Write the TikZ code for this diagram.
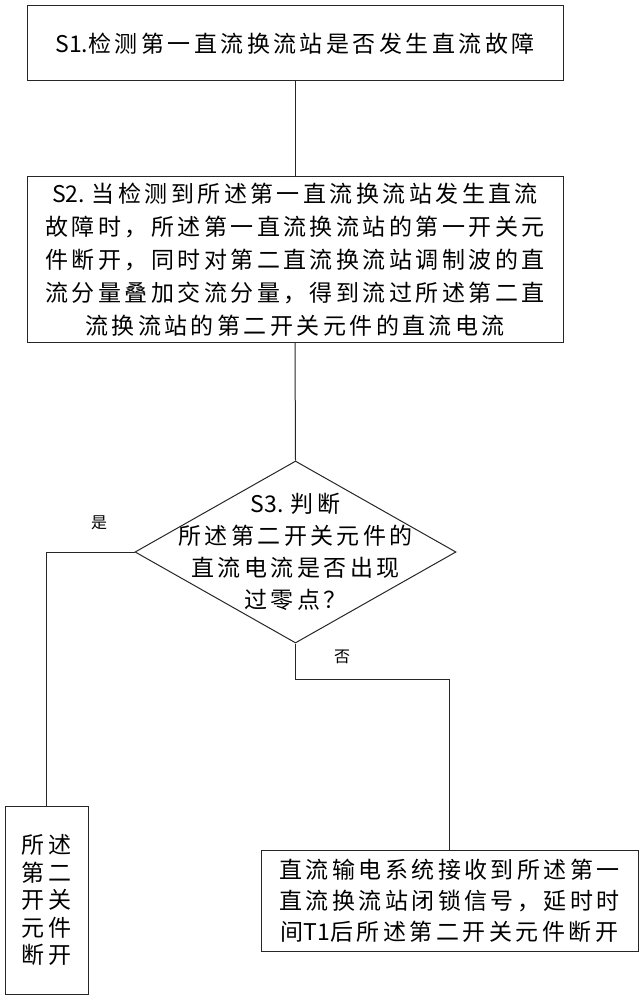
\documentclass[tikz,border=0pt]{standalone}
\usepackage{fontspec}
\newfontfamily\cjk{Noto Sans CJK SC}[LetterSpace=15]
\newfontfamily\cjkplain{Noto Sans CJK SC}
\newcommand\lat[1]{{\cjkplain #1}}
\usetikzlibrary{shapes.geometric}
\begin{document}
\begin{tikzpicture}[x=1pt,y=-1pt,
  box/.style={draw=black!85, line width=1pt, inner sep=0pt, align=center},
  main/.style={font=\cjk\fontsize{23}{33}\selectfont},
  conn/.style={draw=black!85, line width=1pt},
  lbl/.style={font=\cjkplain\fontsize{16}{18}\selectfont, inner sep=0pt}]
\useasboundingbox (0,0) rectangle (644,1000);
\node[box, main, minimum width=536pt, minimum height=75pt] (s1) at (295,43.5)
  {\lat{S1.}检测第一直流换流站是否发生直流故障};
\node[box, main, minimum width=536pt, minimum height=165pt] (s2) at (295,259.5)
  {\lat{S2. }当检测到所述第一直流换流站发生直流\\故障时，所述第一直流换流站的第一开关元\\件断开，同时对第二直流换流站调制波的直\\流分量叠加交流分量，得到流过所述第二直\\流换流站的第二开关元件的直流电流};
\node[diamond, draw=black!85, line width=1pt, inner sep=0pt, minimum width=321pt, minimum height=182pt] (d) at (295.5,552) {};
\node[main, align=center, font=\cjk\fontsize{23}{32}\selectfont] (dt) at (d.center)
  {\lat{S3. }判断\\所述第二开关元件的\\直流电流是否出现\\过零点？};
\node[box, main, font=\cjk\fontsize{23}{27.5}\selectfont, minimum width=83pt, minimum height=188pt] (lb) at (46.5,900)
  {所述\\第二\\开关\\元件\\断开};
\node[box, main, font=\cjk\fontsize{23}{31}\selectfont, minimum width=377pt, minimum height=101pt] (rb) at (449.5,900.5)
  {直流输电系统接收到所述第一\\直流换流站闭锁信号，延时时\\间\lat{T1}后所述第二开关元件断开};
\coordinate (turn) at (295.5,679);
\draw[conn] (s1.south) -- (s2.north);
\draw[conn] (s2.south) -- (d.north);
\draw[conn] (d.west) -| (lb.north);
\draw[conn] (d.south) -- (turn) -| (rb.north);
\node[lbl] (yes) at (99,523) {是};
\node[lbl] (no) at (342,657) {否};
\end{tikzpicture}
\end{document}
